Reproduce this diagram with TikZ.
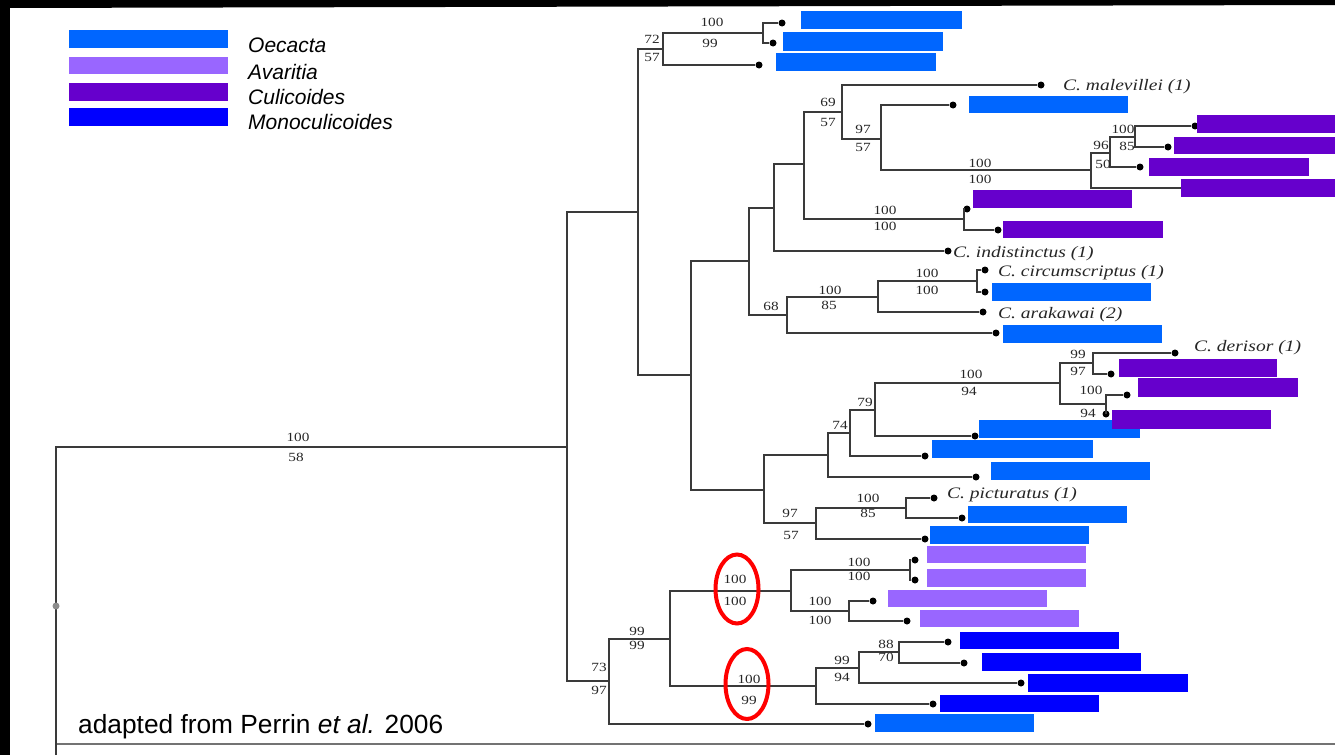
\documentclass[tikz,border=0pt]{standalone}
\usepackage{fontspec}
\setmainfont{Liberation Sans}
\newfontfamily\treefont[FakeStretch=1.22]{Liberation Serif}
\usetikzlibrary{shapes.geometric}
\definecolor{oec}{HTML}{0066FF}
\definecolor{ava}{HTML}{9966FF}
\definecolor{cul}{HTML}{6600CC}
\definecolor{mono}{HTML}{0000FF}
\definecolor{branchgray}{HTML}{3A3A3A}
\tikzset{
  br/.style={draw=branchgray, line width=1.7pt},
  leafdot/.style={circle, fill=black, inner sep=0pt, minimum size=7pt},
  num/.style={font=\treefont\fontsize{12.5}{12.5}\selectfont, inner sep=0pt, text=black!85},
  taxon/.style={font=\treefont\itshape\fontsize{16}{16}\selectfont, anchor=base west, inner sep=0pt, text=black!85},
  legtext/.style={font=\itshape\fontsize{21}{21}\selectfont, anchor=base west, inner sep=0pt},
  ring/.style={ellipse, draw=red, line width=4pt, inner sep=0pt},
}
\begin{document}
\begin{tikzpicture}[x=1pt,y=-1pt]
\useasboundingbox (0,0) rectangle (1335,755);
\fill[white] (0,0) rectangle (1335,755);
\fill[black] (0,0) -- (1335,0) -- (1335,5) -- (0,8) -- cycle;
\fill[black] (0,0) rectangle (10,755);

% legend
\fill[oec]  (69,30) rectangle (228,48);
\fill[ava]  (69,57) rectangle (228,74);
\fill[cul]  (69,83) rectangle (228,101);
\fill[mono] (69,108) rectangle (228,126);
\node[legtext] (lg1) at (248,52.5) {Oecacta};
\node[legtext] (lg2) at (248,79) {Avaritia};
\node[legtext] (lg3) at (248,104) {Culicoides};
\node[legtext] (lg4) at (248,129) {Monoculicoides};
\node[font=\fontsize{26.3}{26.3}\selectfont, anchor=base west, inner sep=0pt] (credit) at (78,733) {adapted from Perrin \textit{et al.} 2006};

% bottom rule
\coordinate (blA) at (56,744);
\coordinate (blB) at (1335,744);
\draw[draw=black!55, line width=2pt] (blA) -- (blB);

% internal nodes
\coordinate (root) at (56,447);
\coordinate (rootend) at (56,755);
\coordinate (nA) at (567,447);
\coordinate (nT) at (638,212);
\coordinate (nC1) at (663,49);
\coordinate (nC1a) at (763,33);
\coordinate (nH) at (691,375);
\coordinate (nR) at (749,261);
\coordinate (nS) at (774,208);
\coordinate (nU) at (804,164);
\coordinate (nV) at (842,112);
\coordinate (nW) at (881,139);
\coordinate (nX) at (1091,170);
\coordinate (nY) at (1110,153);
\coordinate (nZ) at (1135,137);
\coordinate (nAA) at (964,219);
\coordinate (nAB) at (787,315);
\coordinate (nAC) at (878,297);
\coordinate (nAD) at (977,281);
\coordinate (nI) at (764,490);
\coordinate (nJ) at (828,455);
\coordinate (nK) at (850,433);
\coordinate (nL) at (875,410);
\coordinate (nM) at (1060,383);
\coordinate (nN) at (1093,363);
\coordinate (nO) at (1106,404);
\coordinate (nP) at (816,523);
\coordinate (nQ) at (906,508);
\coordinate (nB) at (609,681);
\coordinate (nCc) at (670,639);
\coordinate (nD) at (791,591);
\coordinate (nD1) at (910,570);
\coordinate (nD2) at (849,611);
\coordinate (nE) at (816,686);
\coordinate (nF) at (859,668);
\coordinate (nG) at (899,652);
\coordinate (xend) at (1182,188);

% leaves
\node[leafdot] (l1) at (782,23) {};
\node[leafdot] (l2) at (773,43) {};
\node[leafdot] (l3) at (759,65) {};
\node[leafdot] (lmal) at (1041,85) {};
\node[leafdot] (l4) at (953,105) {};
\node[leafdot] (l5) at (1195,126) {};
\node[leafdot] (l6) at (1168,147) {};
\node[leafdot] (l7) at (1140,167) {};
\node[leafdot] (l8) at (967,209) {};
\node[leafdot] (l9) at (998,230) {};
\node[leafdot] (lind) at (948,251) {};
\node[leafdot] (lcir) at (985,270) {};
\node[leafdot] (l10) at (985,292) {};
\node[leafdot] (lara) at (983,312) {};
\node[leafdot] (l11) at (996,333) {};
\node[leafdot] (lder) at (1175,353) {};
\node[leafdot] (l12) at (1111,374) {};
\node[leafdot] (l13) at (1127,395) {};
\node[leafdot] (l14) at (1106,414) {};
\node[leafdot] (l15) at (975,436) {};
\node[leafdot] (l16) at (925,456) {};
\node[leafdot] (l17) at (976,477) {};
\node[leafdot] (lpic) at (934,498) {};
\node[leafdot] (l18) at (962,518) {};
\node[leafdot] (l19) at (925,539) {};
\node[leafdot] (l20) at (915,560) {};
\node[leafdot] (l21) at (915,580) {};
\node[leafdot] (l22) at (873,601) {};
\node[leafdot] (l23) at (907,621) {};
\node[leafdot] (l24) at (948,642) {};
\node[leafdot] (l25) at (964,663) {};
\node[leafdot] (l26) at (1021,683) {};
\node[leafdot] (l27) at (933,704) {};
\node[leafdot] (l28) at (868,724) {};

% branches
\draw[br] (rootend) -- (root) -- (nA);
\draw[br] (nA) |- (nT);  \draw[br] (nA) |- (nB);
\draw[br] (nT) |- (nC1); \draw[br] (nT) |- (nH);
\draw[br] (nC1) |- (nC1a); \draw[br] (nC1) |- (l3);
\draw[br] (nC1a) |- (l1); \draw[br] (nC1a) |- (l2);
\draw[br] (nH) |- (nR); \draw[br] (nH) |- (nI);
\draw[br] (nR) |- (nS); \draw[br] (nR) |- (nAB);
\draw[br] (nS) |- (nU); \draw[br] (nS) |- (lind);
\draw[br] (nU) |- (nV); \draw[br] (nU) |- (nAA);
\draw[br] (nV) |- (lmal); \draw[br] (nV) |- (nW);
\draw[br] (nW) |- (l4); \draw[br] (nW) |- (nX);
\draw[br] (nX) |- (nY); \draw[br] (nX) |- (xend);
\draw[br] (nY) |- (nZ); \draw[br] (nY) |- (l7);
\draw[br] (nZ) |- (l5); \draw[br] (nZ) |- (l6);
\draw[br] (nAA) |- (l8); \draw[br] (nAA) |- (l9);
\draw[br] (nAB) |- (nAC); \draw[br] (nAB) |- (l11);
\draw[br] (nAC) |- (nAD); \draw[br] (nAC) |- (lara);
\draw[br] (nAD) |- (lcir); \draw[br] (nAD) |- (l10);
\draw[br] (nI) |- (nJ); \draw[br] (nI) |- (nP);
\draw[br] (nJ) |- (nK); \draw[br] (nJ) |- (l17);
\draw[br] (nK) |- (nL); \draw[br] (nK) |- (l16);
\draw[br] (nL) |- (nM); \draw[br] (nL) |- (l15);
\draw[br] (nM) |- (nN); \draw[br] (nM) |- (nO);
\draw[br] (nN) |- (lder); \draw[br] (nN) |- (l12);
\draw[br] (nO) |- (l13); \draw[br] (nO) |- (l14);
\draw[br] (nP) |- (nQ); \draw[br] (nP) |- (l19);
\draw[br] (nQ) |- (lpic); \draw[br] (nQ) |- (l18);
\draw[br] (nB) |- (nCc); \draw[br] (nB) |- (l28);
\draw[br] (nCc) |- (nD); \draw[br] (nCc) |- (nE);
\draw[br] (nD) |- (nD1); \draw[br] (nD) |- (nD2);
\draw[br] (nD1) |- (l20); \draw[br] (nD1) |- (l21);
\draw[br] (nD2) |- (l22); \draw[br] (nD2) |- (l23);
\draw[br] (nE) |- (nF); \draw[br] (nE) |- (l27);
\draw[br] (nF) |- (nG); \draw[br] (nF) |- (l26);
\draw[br] (nG) |- (l24); \draw[br] (nG) |- (l25);

\node[circle, fill=black!45, inner sep=0pt, minimum size=7pt] (rootmark) at (56,606) {};

% coloured taxon bars
\fill[oec] (801,11) rectangle (962,29);
\fill[oec] (783,32) rectangle (943,51);
\fill[oec] (776,53) rectangle (936,71);
\fill[oec] (969,96) rectangle (1128,113);
\fill[cul] (1197,115) rectangle (1335,133);
\fill[cul] (1174,137) rectangle (1335,154);
\fill[cul] (1149,158) rectangle (1309,176);
\fill[cul] (1181,179) rectangle (1335,197);
\fill[cul] (973,190) rectangle (1132,208);
\fill[cul] (1003,221) rectangle (1163,238);
\fill[oec] (992,283) rectangle (1151,301);
\fill[oec] (1003,325) rectangle (1162,343);
\fill[cul] (1119,359) rectangle (1277,377);
\fill[cul] (1138,378) rectangle (1298,397);
\fill[oec] (979,420) rectangle (1140,438);
\fill[cul] (1112,410) rectangle (1271,429);
\fill[oec] (932,440) rectangle (1093,458);
\fill[oec] (991,462) rectangle (1150,480);
\fill[oec] (968,506) rectangle (1127,523);
\fill[oec] (930,526) rectangle (1089,544);
\fill[ava] (927,546) rectangle (1086,563);
\fill[ava] (927,569) rectangle (1086,587);
\fill[ava] (888,590) rectangle (1047,607);
\fill[ava] (920,610) rectangle (1079,627);
\fill[mono] (960,632) rectangle (1119,649);
\fill[mono] (982,653) rectangle (1141,671);
\fill[mono] (1028,674) rectangle (1188,692);
\fill[mono] (940,695) rectangle (1099,712);
\fill[oec] (875,714) rectangle (1034,732);

% taxon names
\node[taxon] (tmal) at (1063,90) {C. malevillei (1)};
\node[taxon] (tind) at (953,257) {C. indistinctus (1)};
\node[taxon] (tcir) at (998,276) {C. circumscriptus (1)};
\node[taxon] (tara) at (998,318) {C. arakawai (2)};
\node[taxon] (tder) at (1194,351) {C. derisor (1)};
\node[taxon] (tpic) at (947,498) {C. picturatus (1)};

% support values
\node[num] (s1) at (298,437) {100};
\node[num] (s2) at (296,457) {58};
\node[num] (s3) at (599,667) {73};
\node[num] (s4) at (599,690) {97};
\node[num] (s5) at (652,39) {72};
\node[num] (s6) at (652,57) {57};
\node[num] (s7) at (712,22) {100};
\node[num] (s8) at (710,43) {99};
\node[num] (s9) at (828,102) {69};
\node[num] (s10) at (828,122) {57};
\node[num] (s11) at (863,129) {97};
\node[num] (s12) at (863,147) {57};
\node[num] (s13) at (980,163) {100};
\node[num] (s14) at (980,179) {100};
\node[num] (s15) at (1101,145) {96};
\node[num] (s16) at (1103,164) {50};
\node[num] (s17) at (1123,129) {100};
\node[num] (s18) at (1127,146) {85};
\node[num] (s19) at (885,210) {100};
\node[num] (s20) at (885,226) {100};
\node[num] (s21) at (771,306) {68};
\node[num] (s22) at (830,290) {100};
\node[num] (s23) at (829,305) {85};
\node[num] (s24) at (927,273) {100};
\node[num] (s25) at (927,290) {100};
\node[num] (s26) at (840,425) {74};
\node[num] (s27) at (865,402) {79};
\node[num] (s28) at (971,374) {100};
\node[num] (s29) at (969,391) {94};
\node[num] (s30) at (1078,354) {99};
\node[num] (s31) at (1078,371) {97};
\node[num] (s32) at (1091,390) {100};
\node[num] (s33) at (1088,413) {94};
\node[num] (s34) at (790,513) {97};
\node[num] (s35) at (791,535) {57};
\node[num] (s36) at (868,498) {100};
\node[num] (s37) at (868,513) {85};
\node[num] (s38) at (637,631) {99};
\node[num] (s39) at (637,645) {99};
\node[num] (s40) at (735,579) {100};
\node[num] (s41) at (735,601) {100};
\node[num] (s42) at (859,562) {100};
\node[num] (s43) at (859,576) {100};
\node[num] (s44) at (820,601) {100};
\node[num] (s45) at (820,620) {100};
\node[num] (s46) at (749,679) {100};
\node[num] (s47) at (749,700) {99};
\node[num] (s48) at (842,660) {99};
\node[num] (s49) at (842,677) {94};
\node[num] (s50) at (886,644) {88};
\node[num] (s51) at (886,657) {70};

% highlight rings
\node[ring, minimum width=43pt, minimum height=69pt] (ring1) at (737,589) {};
\node[ring, minimum width=43pt, minimum height=70pt] (ring2) at (747,684) {};
\end{tikzpicture}
\end{document}
